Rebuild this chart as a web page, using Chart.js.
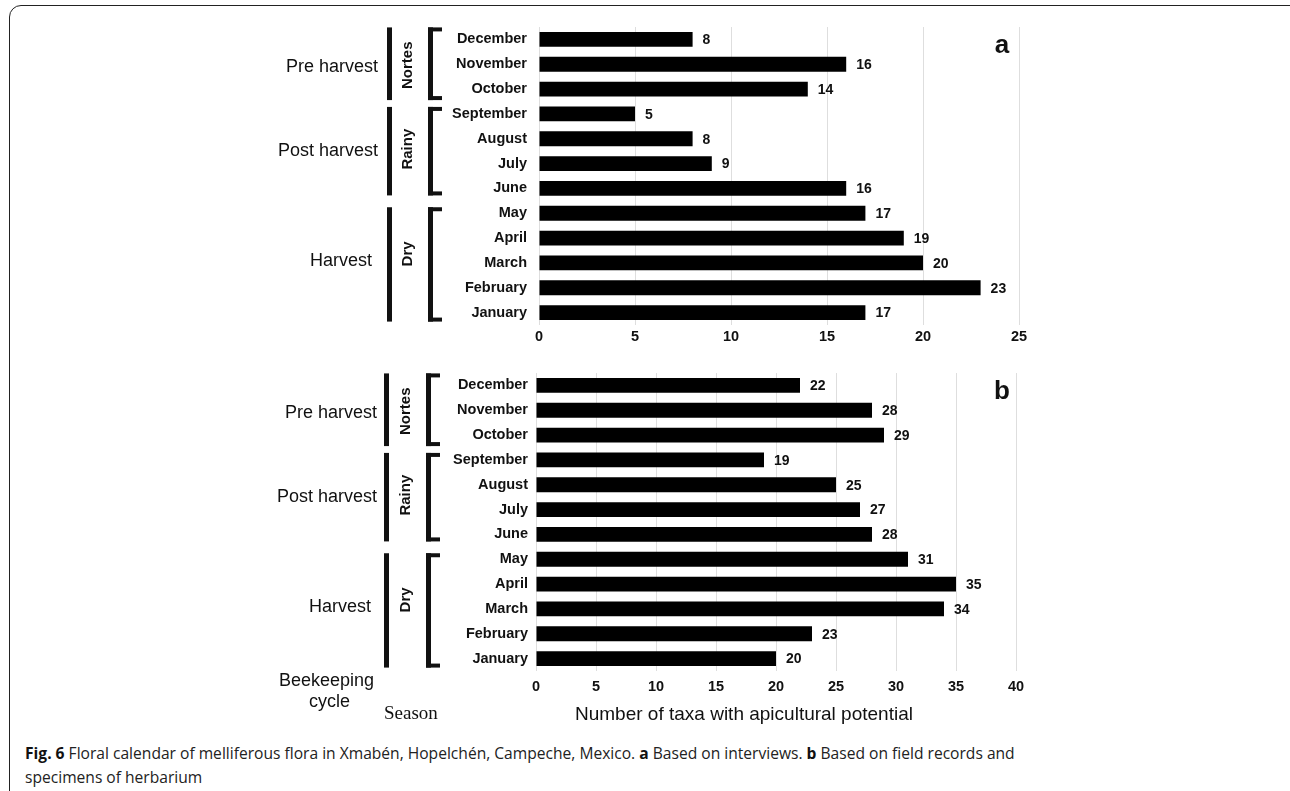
<!DOCTYPE html>
<html>
<head>
<meta charset="utf-8">
<script src="https://cdn.jsdelivr.net/npm/chart.js@4.4.0/dist/chart.umd.min.js"></script>
<style>
  body { margin: 0; background: #fff; width: 1290px; height: 791px; overflow: hidden; position: relative; font-family: "Liberation Sans", Arial, sans-serif; color: #111; }
  #frame { position: absolute; left: 9px; top: 5px; width: 1300px; height: 820px; border: 1.5px solid #222; border-radius: 12px; }
  canvas { position: absolute; left: 0; }
  .txt { position: absolute; white-space: nowrap; }
  #caption { position: absolute; left: 25px; top: 741px; font-family: "Open Sans", sans-serif; font-size: 15.6px; line-height: 24px; color: #222; white-space: nowrap; }
  #caption b { color: #111; }
</style>
</head>
<body>
<div id="frame"></div>
<canvas id="chartA" width="1290" height="346" style="top:0"></canvas>
<canvas id="chartB" width="1290" height="380" style="top:346px"></canvas>
<div class="txt" style="left:279px;top:670px;font-size:18px;">Beekeeping</div>
<div class="txt" style="left:309px;top:691px;font-size:18px;">cycle</div>
<div class="txt" style="left:384px;top:702px;font-size:19px;font-family:'Liberation Serif',serif;">Season</div>
<div class="txt" style="left:575px;top:703px;font-size:19px;">Number of taxa with apicultural potential</div>
<div id="caption"><b>Fig. 6</b> Floral calendar of melliferous flora in Xmabén, Hopelchén, Campeche, Mexico. <b>a</b> Based on interviews. <b>b</b> Based on field records and<br>specimens of herbarium</div>
<script>
// months listed top to bottom as in the figure
const months = ['December', 'November', 'October', 'September', 'August', 'July', 'June', 'May', 'April', 'March', 'February', 'January'];
const taxaInterviews = [8, 16, 14, 5, 8, 9, 16, 17, 19, 20, 23, 17];
const taxaRecords = [22, 28, 29, 19, 25, 27, 28, 31, 35, 34, 23, 20];
const xMaxA = 25;
const xMaxB = 40;
const xStep = 5;

// beekeeping cycle / season groups (index of first and last month)
const cycleLabels = ['Pre harvest', 'Post harvest', 'Harvest'];
const seasonLabels = ['Nortes', 'Rainy', 'Dry'];
const groupFirst = [0, 3, 7];
const groupLast = [2, 6, 11];

const FONT = '"Liberation Sans", Arial, sans-serif';

const sidePlugin = {
  id: 'side',
  afterDraw(chart, args, o) {
    const ctx = chart.ctx;
    const y = chart.scales.y;
    ctx.save();
    ctx.fillStyle = '#111';
    ctx.textBaseline = 'middle';
    cycleLabels.forEach((name, g) => {
      const c0 = y.getPixelForValue(groupFirst[g]);
      const c1 = y.getPixelForValue(groupLast[g]);
      const y0 = c0 - [12, 7, 6][g];
      const y1 = c1 + [11, 7, 9][g];
      const mid = (c0 + c1) / 2;
      ctx.fillRect(o.barX, y0, 5, y1 - y0);
      ctx.fillRect(o.brX, y0, 5, y1 - y0);
      ctx.fillRect(o.brX, y0, 14, 4);
      ctx.fillRect(o.brX, y1 - 4, 14, 4);
      ctx.font = '18px ' + FONT;
      ctx.textAlign = 'right';
      ctx.fillText(name, o.labelX + [0, 0, -6][g], mid + [3, 0, -2][g]);
      ctx.save();
      ctx.translate(o.seasonX, mid + [1, -2, -9][g]);
      ctx.rotate(-Math.PI / 2);
      ctx.font = 'bold 15px ' + FONT;
      ctx.textAlign = 'center';
      ctx.fillText(seasonLabels[g], 0, 0);
      ctx.restore();
    });
    // values at bar ends
    const meta = chart.getDatasetMeta(0);
    const vals = chart.data.datasets[0].data;
    ctx.font = 'bold 14px ' + FONT;
    ctx.textAlign = 'left';
    meta.data.forEach((bar, i) => ctx.fillText(vals[i], bar.x + 10, bar.y + 1));
    // panel letter
    ctx.font = 'bold 26px ' + FONT;
    ctx.textAlign = 'center';
    ctx.fillText(o.letter, o.letterX, y.getPixelForValue(0) + 6);
    ctx.restore();
  }
};

function makeChart(id, values, xMax, cfg) {
  return new Chart(document.getElementById(id), {
    type: 'bar',
    data: {
      labels: months,
      datasets: [{
        data: values,
        backgroundColor: '#000',
        barPercentage: 0.8,
        categoryPercentage: 0.75
      }]
    },
    options: {
      indexAxis: 'y',
      responsive: false,
      animation: false,
      devicePixelRatio: 1,
      layout: { padding: { top: cfg.top, right: 1290 - cfg.right, left: 0, bottom: 0 } },
      plugins: {
        legend: { display: false },
        tooltip: { enabled: false },
        side: cfg.side
      },
      scales: {
        y: {
          grid: { display: false, drawTicks: false },
          border: { display: false },
          ticks: { color: '#111', padding: cfg.labelPad, font: { family: FONT, size: 14.5, weight: 'bold' } },
          afterFit: s => { s.width = cfg.left; }
        },
        x: {
          min: 0,
          max: xMax,
          grid: { color: '#dedede', lineWidth: 1, drawTicks: false },
          border: { display: false },
          ticks: { stepSize: xStep, color: '#111', padding: cfg.tickPad, font: { family: FONT, size: 14.5, weight: 'bold' } },
          afterFit: s => { s.height = cfg.axisH; }
        }
      }
    },
    plugins: [sidePlugin]
  });
}

makeChart('chartA', taxaInterviews, xMaxA, {
  top: 27, left: 539, right: 1019, axisH: 21, labelPad: 12, tickPad: 3,
  side: { barX: 387, brX: 428, labelX: 378, seasonX: 408, letter: 'a', letterX: 1002 }
});
makeChart('chartB', taxaRecords, xMaxB, {
  top: 27, left: 536, right: 1016, axisH: 55, labelPad: 8, tickPad: 7,
  side: { barX: 384, brX: 426, labelX: 377, seasonX: 406, letter: 'b', letterX: 1002 }
});
</script>
</body>
</html>
